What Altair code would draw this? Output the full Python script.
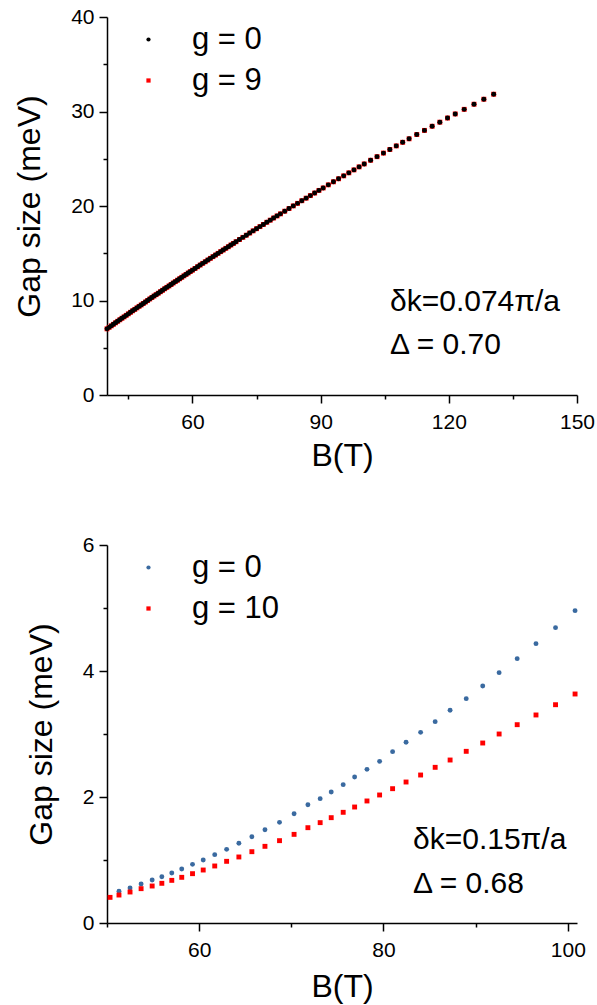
import altair as alt
import pandas as pd

FONT = "Liberation Sans"

# ---------------- top panel data ----------------
top_series = ["g = 0", "g = 9"]
top_B = [
    40.0, 40.5, 41.0, 41.5, 42.0, 42.5, 43.0, 43.5, 44.0, 44.5, 45.0, 45.5, 46.0, 46.5,
    47.0, 47.5, 48.0, 48.5, 49.0, 49.5, 50.0, 50.5, 51.0, 51.5, 52.0, 52.5, 53.0, 53.5,
    54.0, 54.5, 55.0, 55.5, 56.0, 56.5, 57.0, 57.5, 58.0, 58.5, 59.0, 59.5, 60.0,
    60.6, 61.2, 61.8, 62.4, 63.0, 63.6, 64.2, 64.8, 65.4, 66.0, 66.6, 67.2, 67.8, 68.4,
    69.0, 69.6, 70.2,
    71.0, 71.8, 72.6, 73.4, 74.2, 75.0, 75.8, 76.6, 77.4, 78.2, 79.0, 79.8, 80.6,
    81.6, 82.6, 83.6, 84.6, 85.6, 86.6, 87.6, 88.6, 89.6, 90.6,
    91.8, 93.0, 94.2, 95.4, 96.6, 97.8, 99.0, 100.2,
    101.7, 103.2, 104.7, 106.2, 107.7, 109.2, 110.7,
    112.5, 114.3, 116.1, 117.9, 119.7, 121.5,
    123.6, 125.9, 128.2, 130.5,
]
top_gap_g0 = [
    7.00, 7.16, 7.32, 7.48, 7.64, 7.80, 7.96, 8.12, 8.27, 8.43, 8.59, 8.75, 8.91, 9.06,
    9.22, 9.38, 9.53, 9.69, 9.84, 10.00, 10.16, 10.31, 10.47, 10.62, 10.77, 10.93, 11.08, 11.24,
    11.39, 11.54, 11.69, 11.85, 12.00, 12.15, 12.30, 12.45, 12.61, 12.76, 12.91, 13.06, 13.21,
    13.39, 13.57, 13.75, 13.93, 14.10, 14.28, 14.46, 14.64, 14.81, 14.99, 15.17, 15.34, 15.52, 15.69,
    15.87, 16.04, 16.22,
    16.45, 16.68, 16.91, 17.14, 17.37, 17.60, 17.82, 18.05, 18.28, 18.50, 18.73, 18.95, 19.17,
    19.45, 19.73, 20.01, 20.28, 20.56, 20.83, 21.10, 21.37, 21.65, 21.91,
    22.24, 22.56, 22.88, 23.19, 23.51, 23.82, 24.14, 24.45,
    24.84, 25.22, 25.60, 25.98, 26.36, 26.74, 27.11,
    27.56, 28.00, 28.44, 28.87, 29.31, 29.74,
    30.23, 30.77, 31.30, 31.83,
]
# the g = 9 curve lies on top of the g = 0 curve everywhere
top_gap_g9 = list(top_gap_g0)

# ---------------- bottom panel data ----------------
bot_series = ["g = 0", "g = 10"]
bot_B_g0 = [
    51.3, 52.5, 53.7, 54.9, 55.95, 57.03, 58.11, 59.28, 60.44, 61.69, 62.98, 64.31,
    65.72, 67.14, 68.72, 70.30, 71.8, 73.13, 74.33, 75.63, 76.87, 78.21, 79.58, 80.99,
    82.45, 84.03, 85.61, 87.23, 88.98, 90.77, 92.55, 94.51, 96.55, 98.67, 100.79,
]
bot_gap_g0 = [
    0.503, 0.556, 0.619, 0.683, 0.735, 0.794, 0.857, 0.931, 1.000, 1.085, 1.169, 1.265,
    1.370, 1.481, 1.598, 1.735, 1.878, 1.974, 2.079, 2.196, 2.317, 2.439, 2.566, 2.720,
    2.868, 3.026, 3.196, 3.376, 3.561, 3.762, 3.974, 4.196, 4.434, 4.688, 4.958,
]
bot_B_g10 = [
    50.33, 51.3, 52.5, 53.7, 54.9, 55.95, 57.03, 58.11, 59.28, 60.44, 61.69, 62.98, 64.31,
    65.72, 67.14, 68.72, 70.30, 71.8, 73.13, 74.33, 75.63, 76.87, 78.21, 79.58, 80.99,
    82.45, 84.03, 85.61, 87.23, 88.98, 90.77, 92.55, 94.51, 96.55, 98.67, 100.79,
]
bot_gap_g10 = [
    0.407, 0.444, 0.492, 0.545, 0.587, 0.630, 0.677, 0.725, 0.783, 0.841, 0.905, 0.979,
    1.048, 1.132, 1.217, 1.307, 1.407, 1.513, 1.593, 1.672, 1.757, 1.841, 1.937, 2.032,
    2.132, 2.238, 2.349, 2.471, 2.587, 2.725, 2.857, 3.000, 3.148, 3.302, 3.465, 3.635,
]

top_notes = ["δk=0.074π/a", "Δ = 0.70"]
bot_notes = ["δk=0.15π/a", "Δ = 0.68"]

x_title = "B(T)"
y_title = "Gap size (meV)"

# ---------------- tables ----------------
df_top = pd.DataFrame({
    "B": top_B + top_B,
    "gap": top_gap_g9 + top_gap_g0,
    "series": [top_series[1]] * len(top_B) + [top_series[0]] * len(top_B),
})
df_bot = pd.DataFrame({
    "B": bot_B_g0 + bot_B_g10,
    "gap": bot_gap_g0 + bot_gap_g10,
    "series": [bot_series[0]] * len(bot_B_g0) + [bot_series[1]] * len(bot_B_g10),
})


def legend():
    return alt.Legend(
        title=None, orient="none", legendX=26, legendY=7, padding=0,
        labelFont=FONT, labelFontSize=31, labelColor="black",
        symbolSize=18, symbolStrokeWidth=0, symbolOpacity=1,
        labelOffset=28, rowPadding=9,
    )


def minor_axis(values, major, pad, tpad):
    test = f"datum.value % {major} === 0"
    return alt.Axis(
        values=values,
        labelExpr=f"{test} ? datum.label : ''",
        tickSize={"condition": {"test": test, "value": 8}, "value": 4},
        labelPadding=pad, titlePadding=tpad,
    )


def note(text, x, y):
    return alt.Chart(pd.DataFrame({"t": [text]})).mark_text(
        align="left", baseline="alphabetic", font=FONT, fontSize=30, color="black"
    ).encode(x=alt.value(x), y=alt.value(y), text="t:N")


def panel(df, series, colors, xdom, xvals, xmajor, ydom, yvals, ymajor, notes, note_x, note_y, xtpad):
    pts = alt.Chart(df).mark_point(filled=True, opacity=1, strokeWidth=0, size=24).encode(
        x=alt.X("B:Q", title=x_title,
                scale=alt.Scale(domain=xdom, nice=False, zero=False),
                axis=minor_axis(xvals, xmajor, 8, xtpad)),
        y=alt.Y("gap:Q", title=y_title,
                scale=alt.Scale(domain=ydom, nice=False, zero=False),
                axis=minor_axis(yvals, ymajor, 5, 24)),
        color=alt.Color("series:N", scale=alt.Scale(domain=series, range=colors), legend=legend()),
        shape=alt.Shape("series:N", scale=alt.Scale(domain=series, range=["circle", "square"]),
                        legend=legend()),
    )
    layers = [pts] + [note(t, note_x, note_y[i]) for i, t in enumerate(notes)]
    return alt.layer(*layers).properties(width=470, height=378)


top = panel(df_top, top_series, ["#000000", "#ff0000"],
            [40, 150], [45, 60, 75, 90, 105, 120, 135, 150], 30,
            [0, 40], [0, 5, 10, 15, 20, 25, 30, 35, 40], 10,
            top_notes, 283, [294, 337], 8)
bottom = panel(df_bot, bot_series, ["#3a6aa0", "#ff0000"],
               [50, 101], [50, 60, 70, 80, 90, 100], 20,
               [0, 6], [0, 1, 2, 3, 4, 5, 6], 2,
               bot_notes, 306, [304, 348], 11)

chart = alt.vconcat(top, bottom, spacing=150, bounds="flush").resolve_scale(
    color="independent", shape="independent", x="independent", y="independent"
).resolve_legend(
    color="independent", shape="independent"
).properties(
    padding={"left": 13, "top": 6, "right": 2, "bottom": 2},
    background="white",
).configure_view(strokeWidth=0).configure_axis(
    domainColor="black", domainWidth=1.5, tickColor="black", tickWidth=1.5,
    labelFont=FONT, labelFontSize=21, labelColor="black",
    titleFont=FONT, titleFontSize=32, titleFontWeight="normal", titleColor="black",
    grid=False, labelFlush=False, labelOverlap=False,
)

chart.save("out.html", embed_options={"renderer": "svg", "actions": False})
